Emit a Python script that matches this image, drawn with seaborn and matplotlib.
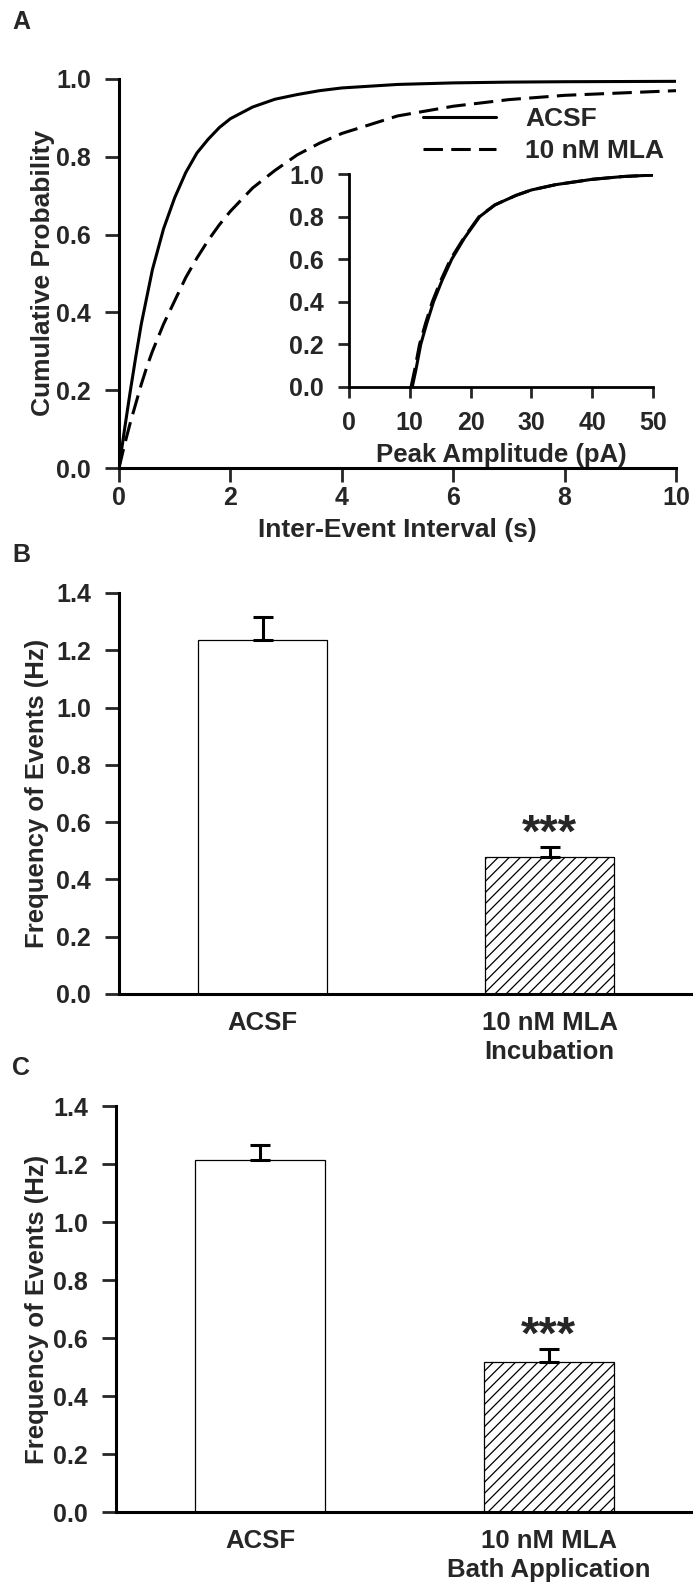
import matplotlib
matplotlib.use("Agg")
import matplotlib.pyplot as plt
import numpy as np
import pandas as pd
import seaborn as sns


# ── Data ──────────────────────────────────────────────────────────────────────
# Panel A: cumulative probability of inter-event interval (s)
interval_s = [0, 0.05, 0.1, 0.2, 0.3, 0.4, 0.5, 0.6, 0.8, 1.0, 1.2, 1.4, 1.6,
              1.8, 2.0, 2.4, 2.8, 3.2, 3.6, 4.0, 5.0, 6.0, 7.0, 8.0, 10.0]
acsf_interval_cum = [0, 0.05, 0.10, 0.195, 0.285, 0.37, 0.44, 0.51, 0.615,
                     0.695, 0.76, 0.81, 0.845, 0.875, 0.898, 0.928, 0.948,
                     0.96, 0.97, 0.977, 0.986, 0.99, 0.992, 0.993, 0.994]
mla_interval_cum = [0, 0.03, 0.06, 0.115, 0.165, 0.215, 0.26, 0.30, 0.37,
                    0.43, 0.49, 0.54, 0.585, 0.625, 0.66, 0.72, 0.765, 0.805,
                    0.835, 0.86, 0.905, 0.93, 0.947, 0.958, 0.97]

# Panel A inset: cumulative probability of peak amplitude (pA)
acsf_amp_pa = [10.4, 11.0, 11.8, 12.8, 13.9, 15.3, 16.9, 19.0, 21.5, 24.0,
               27.5, 30.0, 34.0, 40.0, 45.0, 50.0]
acsf_amp_cum = [0, 0.08, 0.2, 0.3, 0.4, 0.5, 0.6, 0.7, 0.8, 0.855, 0.9, 0.925,
                0.95, 0.975, 0.988, 0.995]
mla_amp_pa = [10.2, 10.8, 11.6, 12.6, 13.7, 15.1, 16.7, 18.9, 21.4, 24.0,
              27.5, 30.0, 34.0, 40.0, 45.0, 50.0]
mla_amp_cum = [0, 0.08, 0.2, 0.3, 0.4, 0.5, 0.6, 0.7, 0.8, 0.855, 0.9, 0.925,
               0.95, 0.975, 0.988, 0.995]

CONDITIONS = ["ACSF", "10 nM MLA"]

# Panels B and C: event frequency (Hz), mean + SEM
labels_b = ["ACSF", "10 nM MLA\nIncubation"]
freq_b = [1.235, 0.477]
sem_b = [0.082, 0.036]

labels_c = ["ACSF", "10 nM MLA\nBath Application"]
freq_c = [1.213, 0.518]
sem_c = [0.054, 0.045]


# ── Style ─────────────────────────────────────────────────────────────────────
sns.set_style("ticks")
plt.rcParams["font.family"] = ["Liberation Sans", "DejaVu Sans"]
plt.rcParams["font.weight"] = "bold"
plt.rcParams["axes.labelweight"] = "bold"
plt.rcParams["lines.scale_dashes"] = False
plt.rcParams["hatch.linewidth"] = 0.9
plt.rcParams["hatch.color"] = "black"

W, H = 693, 1587
SPINE_LW = 2.2
TICK_FS = 18
DASH = (14, 6)


def add_axes_px(fig, left, top, right, bottom):
    return fig.add_axes([left / W, 1 - bottom / H, (right - left) / W, (bottom - top) / H])


def style_axis(ax, lw=SPINE_LW):
    sns.despine(ax=ax)
    for side in ("left", "bottom"):
        ax.spines[side].set_linewidth(lw)
        ax.spines[side].set_color("black")
    ax.set_facecolor("none")


def cum_frame(x_a, y_a, x_m, y_m, xname):
    return pd.DataFrame({
        xname: list(x_a) + list(x_m),
        "p": list(y_a) + list(y_m),
        "cond": [CONDITIONS[0]] * len(x_a) + [CONDITIONS[1]] * len(x_m),
    })


fig = plt.figure(figsize=(W / 100, H / 100), dpi=100)

# ── Panel A ───────────────────────────────────────────────────────────────────
ax_a = add_axes_px(fig, 119, 79, 676, 468)
df_int = cum_frame(interval_s, acsf_interval_cum, interval_s, mla_interval_cum, "t")
sns.lineplot(data=df_int, x="t", y="p", style="cond", style_order=CONDITIONS,
             dashes={"ACSF": "", "10 nM MLA": DASH}, color="black",
             linewidth=2.2, estimator=None, legend=False, ax=ax_a)
style_axis(ax_a)
ax_a.set_xlim(0, 10)
ax_a.set_ylim(0, 1)
ax_a.set_xticks(np.arange(0, 11, 2))
ax_a.set_yticks(np.arange(0, 1.01, 0.2))
ax_a.set_yticklabels([f"{v:.1f}" for v in np.arange(0, 1.01, 0.2)])
ax_a.tick_params(axis="both", length=10, width=2, labelsize=TICK_FS)
ax_a.tick_params(axis="y", pad=10)
ax_a.tick_params(axis="x", pad=3)
ax_a.set_xlabel("Inter-Event Interval (s)", fontsize=19, labelpad=6)
ax_a.set_ylabel("Cumulative Probability", fontsize=19)
ax_a.yaxis.set_label_coords(-0.115, 0.5)

ax_a.legend(handles=ax_a.lines[:2], labels=CONDITIONS, frameon=False,
            fontsize=19, handlelength=2.77, handletextpad=1.1, labelspacing=0.3,
            borderpad=0, borderaxespad=0, loc="center left",
            bbox_to_anchor=(423 / W, 1 - 135 / H), bbox_transform=fig.transFigure)

# inset: peak amplitude
ax_in = add_axes_px(fig, 349, 174, 653, 387)
df_amp = cum_frame(acsf_amp_pa, acsf_amp_cum, mla_amp_pa, mla_amp_cum, "amp")
sns.lineplot(data=df_amp, x="amp", y="p", style="cond", style_order=CONDITIONS,
             dashes={"ACSF": "", "10 nM MLA": DASH}, color="black",
             linewidth=2.2, estimator=None, legend=False, ax=ax_in)
style_axis(ax_in, 2.0)
ax_in.set_xlim(0, 50)
ax_in.set_ylim(0, 1)
ax_in.set_xticks(np.arange(0, 51, 10))
ax_in.set_yticks(np.arange(0, 1.01, 0.2))
ax_in.set_yticklabels([f"{v:.1f}" for v in np.arange(0, 1.01, 0.2)])
ax_in.tick_params(axis="both", length=8, width=2, labelsize=TICK_FS)
ax_in.tick_params(axis="y", pad=10)
ax_in.tick_params(axis="x", pad=9)
ax_in.set_xlabel("Peak Amplitude (pA)", fontsize=18.5, labelpad=6)
ax_in.set_ylabel("")


# ── Panels B and C ────────────────────────────────────────────────────────────
def bar_panel(box, labels, freq, sem, label_x):
    ax = add_axes_px(fig, *box)
    sns.barplot(x=labels, y=freq, color="white", saturation=1, edgecolor="black",
                linewidth=0.9, width=0.45, errorbar=None, ax=ax)
    ax.patches[1].set_hatch("///")
    ax.errorbar(x=[0, 1], y=freq, yerr=[[0, 0], sem], fmt="none", ecolor="black",
                elinewidth=2.2, capsize=7, capthick=2.2)
    ax.annotate("***", xy=(1, freq[1] + sem[1]), xytext=(0, 0),
                textcoords="offset points", ha="center", va="baseline",
                fontsize=34, fontweight="bold")
    style_axis(ax)
    ax.set_xlim(-0.5, 1.5)
    ax.set_ylim(0, 1.4)
    ticks = np.arange(0, 1.41, 0.2)
    ax.set_yticks(ticks)
    ax.set_yticklabels([f"{v:.1f}" for v in ticks])
    ax.tick_params(axis="y", length=10, width=2, labelsize=TICK_FS, pad=10)
    ax.tick_params(axis="x", length=0, labelsize=18.5, pad=12)
    for lbl in ax.get_xticklabels():
        lbl.set_linespacing(1.3)
    ax.set_ylabel("Frequency of Events (Hz)", fontsize=18.5)
    ax.yaxis.set_label_coords(label_x, 0.5)
    return ax


bar_panel((119, 593, 693, 994), labels_b, freq_b, sem_b, -0.122)
bar_panel((116, 1106, 693, 1512), labels_c, freq_c, sem_c, -0.116)

# panel letters
for letter, y in (("A", 22), ("B", 555), ("C", 1068)):
    fig.text(12 / W, 1 - y / H, letter, fontsize=18, fontweight="bold",
             ha="left", va="center")

fig.savefig("out.png", dpi=100)
